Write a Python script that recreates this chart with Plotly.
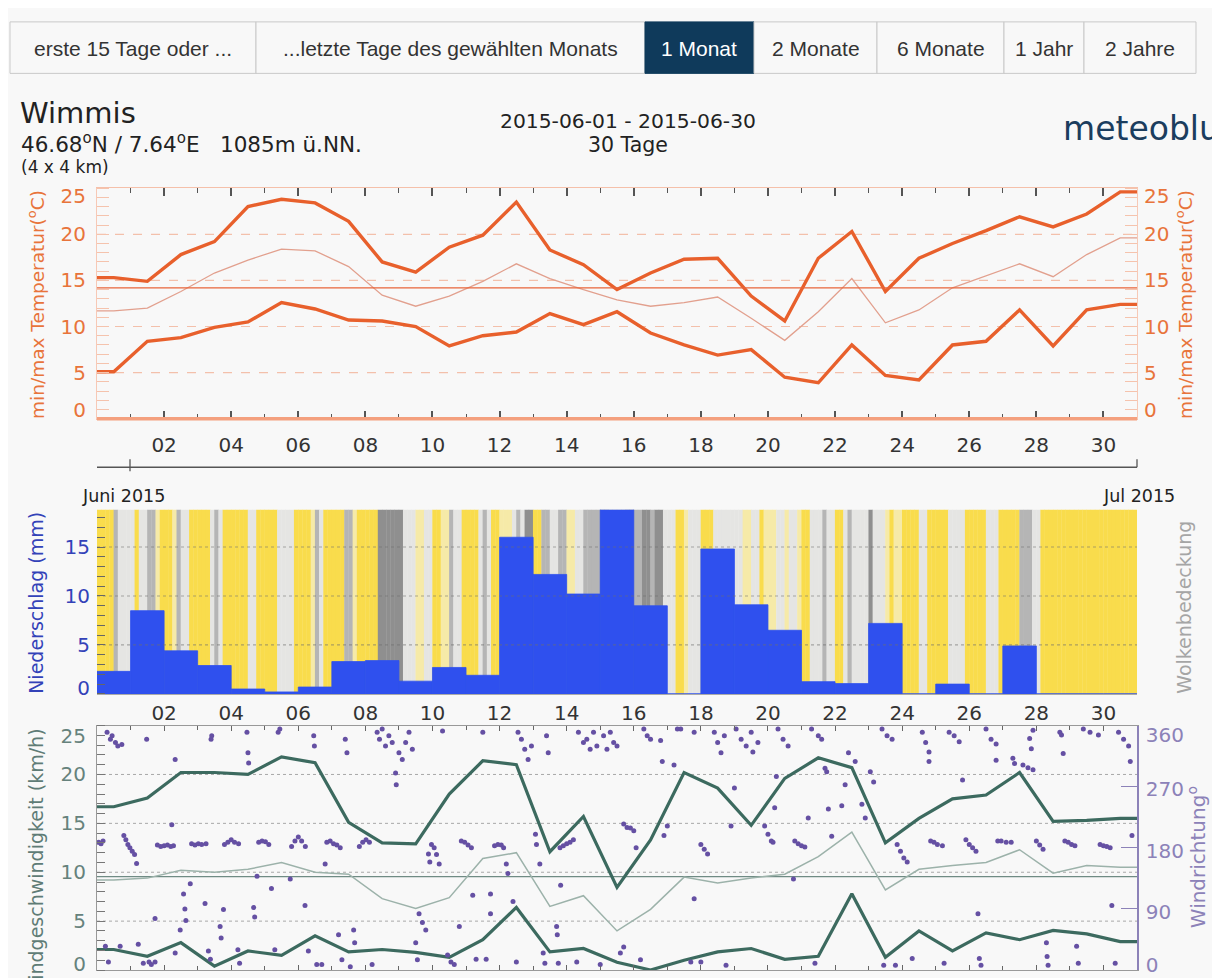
import plotly.graph_objects as go

# the page adds an 8px body margin, so the figure is 8px smaller and reference pixels are shifted by 8
OFF = 8
W, H = 1220 - OFF, 978 - OFF
def px(x): return (x - OFF) / W
def py(y): return 1 - (y - OFF) / H

FONT = "DejaVu Sans"

# ---------------- data ----------------
day_ticks = list(range(2, 31, 2))
day_labels = [f"{d:02d}" for d in day_ticks]
n_days = 31

temp_max = [15.3, 14.9, 17.8, 19.2, 23.0, 23.8, 23.4, 21.4, 17.0, 15.9, 18.6, 19.9, 23.5, 18.3, 16.7,
            14.0, 15.8, 17.3, 17.4, 13.3, 10.6, 17.4, 20.3, 13.8, 17.4, 19.0, 20.4, 21.9, 20.8, 22.2, 24.6]
temp_min = [5.1, 8.4, 8.8, 9.9, 10.5, 12.6, 11.9, 10.7, 10.6, 10.0, 7.9, 9.0, 9.4, 11.4, 10.2,
            11.6, 9.3, 8.0, 6.9, 7.5, 4.5, 3.9, 8.0, 4.7, 4.2, 8.0, 8.4, 11.8, 7.9, 11.8, 12.4]
temp_mean = [11.7, 12.0, 13.8, 15.8, 17.2, 18.4, 18.2, 16.5, 13.4, 12.2, 13.3, 14.9, 16.8, 15.2, 14.0,
             12.9, 12.2, 12.6, 13.2, 10.9, 8.5, 11.6, 15.2, 10.4, 11.8, 14.2, 15.5, 16.8, 15.4, 17.8, 19.6]
temp_avg = 14.2

precip = [2.3, 8.5, 4.4, 2.9, 0.5, 0.2, 0.7, 3.3, 3.4, 1.3, 2.7, 1.9, 16.0, 12.2, 10.2,
          19.5, 9.0, 0.0, 14.8, 9.1, 6.5, 1.25, 1.05, 7.2, 0.0, 1.0, 0.0, 4.9, 0.0, 0.0, 0.0]

# cloud cover per 3 hours: Y clear, P little, L light cloud, G cloudy, D overcast
cloud_cover = ["YYYYGLLL", "LYLLGGPY", "YYPGLLYY", "YYYLGLYY", "YYYYLLYY", "YYYLLLLY", "YYYPGLYY",
               "YYYGGPYY", "YYYDDDDD", "DLLLPPLL", "YYPPGLLY", "YYYLGLYY", "PPPLGLDD", "YYGGLLGG",
               "PPLLGGGG", "DDGGGGDD", "GGDDGDDL", "LLYYPLLL", "YYYLLLLL", "LLPPLLYP", "PPLLPLLP",
               "YYLLLGLL", "YYLGLLLL", "DLLLPYPP", "YYYYLLYY", "YYYLLLLY", "YYYYLLLY", "YYYYGGGL",
               "LYYYYYYY", "YYYYYYYY", "YYYYYYYY"]

wind_max = [16.7, 17.6, 20.2, 20.2, 20.0, 21.8, 21.2, 15.1, 13.0, 12.9, 18.0, 21.4, 21.0, 12.1, 15.7,
            8.45, 13.3, 20.2, 18.6, 14.8, 19.6, 21.7, 20.7, 13.0, 15.5, 17.5, 17.9, 20.2, 15.2, 15.3, 15.5]
wind_mean = [9.2, 9.4, 10.2, 10.0, 10.3, 11.0, 10.0, 9.8, 7.3, 6.3, 7.4, 11.4, 12.0, 6.5, 7.6,
             4.0, 6.2, 9.5, 8.9, 9.4, 9.8, 11.6, 14.1, 8.2, 10.3, 10.7, 11.0, 12.3, 9.9, 10.7, 10.5]
wind_min = [2.1, 1.4, 2.8, 0.4, 1.95, 1.5, 3.5, 1.85, 2.1, 1.8, 1.3, 3.1, 6.4, 1.85, 2.2,
            0.8, 0.0, 1.0, 1.85, 2.2, 1.1, 1.4, 7.8, 1.3, 4.0, 1.95, 3.8, 3.1, 4.05, 3.7, 2.9]
wind_avg = 9.55

# (time in days, direction in degrees)
wind_dir_obs = [
    (0.05, 188), (0.12, 186), (0.18, 190), (0.25, 35), (0.30, 350), (0.34, 12), (0.40, 340), (0.45, 345),
    (0.55, 335), (0.62, 330), (0.69, 35), (0.74, 332), (0.80, 198), (0.86, 192), (0.92, 185), (0.98, 180),
    (1.05, 175), (1.12, 170), (1.18, 157), (1.23, 38), (1.38, 10), (1.48, 340), (1.55, 12), (1.62, 8),
    (1.73, 76), (1.73, 12), (1.80, 184), (1.90, 182), (2.00, 183), (2.10, 184), (2.20, 182), (2.23, 214),
    (2.28, 183), (2.33, 310), (2.33, 25), (2.48, 59), (2.58, 112), (2.62, 90), (2.65, 73), (2.78, 127),
    (2.82, 186), (2.92, 184), (3.02, 186), (3.12, 185), (3.22, 98), (3.25, 186), (3.32, 28), (3.38, 16),
    (3.40, 340), (3.42, 345), (3.67, 64), (3.70, 47), (3.77, 89), (3.80, 185), (3.90, 188), (4.00, 192),
    (4.10, 188), (4.20, 30), (4.22, 186), (4.25, 10), (4.47, 350), (4.50, 320), (4.52, 305), (4.67, 92),
    (4.70, 78), (4.77, 138), (4.82, 188), (4.92, 190), (5.02, 189), (5.12, 185), (5.20, 120), (5.30, 30),
    (5.40, 350), (5.45, 355), (5.76, 134), (5.80, 182), (5.90, 190), (6.00, 196), (6.10, 190), (6.20, 95),
    (6.21, 182), (6.30, 28), (6.46, 345), (6.48, 330), (6.55, 8), (6.70, 8), (6.80, 156), (6.85, 188),
    (6.95, 190), (7.05, 186), (7.15, 184), (7.20, 52), (7.25, 180), (7.30, 15), (7.40, 340), (7.45, 320),
    (7.55, 5), (7.65, 59), (7.68, 40), (7.82, 182), (7.92, 188), (8.02, 192), (8.12, 188), (8.20, 8),
    (8.35, 350), (8.42, 340), (8.50, 355), (8.60, 330), (8.70, 345), (8.80, 335), (8.90, 290), (8.92, 273),
    (9.00, 320), (9.10, 310), (9.20, 335), (9.30, 350), (9.40, 325), (9.50, 40), (9.55, 15), (9.60, 83),
    (9.70, 70), (9.80, 59), (9.88, 171), (9.92, 159), (9.97, 185), (10.05, 180), (10.12, 170), (10.20, 156),
    (10.30, 352), (10.45, 22), (10.55, 12), (10.65, 8), (10.80, 64), (10.86, 190), (10.96, 188), (11.06, 184),
    (11.16, 180), (11.20, 110), (11.30, 16), (11.50, 350), (11.60, 16), (11.73, 112), (11.73, 83),
    (11.85, 183), (11.95, 185), (12.05, 184), (12.12, 180), (12.20, 156), (12.25, 142), (12.40, 101),
    (12.50, 12), (12.55, 350), (12.65, 340), (12.75, 325), (12.85, 310), (12.95, 330), (13.07, 200),
    (13.10, 185), (13.20, 156), (13.30, 25), (13.35, 10), (13.40, 345), (13.45, 320), (13.70, 64),
    (13.72, 52), (13.75, 10), (13.80, 180), (13.82, 125), (13.90, 183), (14.00, 186), (14.10, 188),
    (14.20, 192), (14.30, 12), (14.35, 350), (14.50, 335), (14.60, 340), (14.70, 325), (14.80, 350),
    (14.90, 330), (15.00, 8), (15.10, 345), (15.20, 325), (15.30, 350), (15.40, 335), (15.50, 330),
    (15.60, 25), (15.70, 34), (15.70, 215), (15.80, 210), (15.90, 209), (16.00, 205), (16.07, 180),
    (16.20, 15), (16.30, 355), (16.40, 345), (16.50, 340), (16.80, 338), (16.85, 307), (16.90, 198),
    (17.00, 212), (17.20, 302), (17.30, 355), (17.40, 355), (17.70, 12), (17.80, 350), (17.80, 105),
    (18.00, 185), (18.10, 178), (18.20, 171), (18.00, 12), (18.40, 350), (18.50, 335), (18.60, 320),
    (18.70, 345), (18.75, 7), (18.90, 212), (19.00, 268), (19.05, 355), (19.20, 340), (19.35, 330),
    (19.50, 350), (19.55, 321), (19.70, 335), (19.90, 212), (20.00, 200), (20.10, 190), (20.15, 188),
    (20.20, 239), (20.25, 285), (20.30, 355), (20.45, 340), (20.60, 330), (20.76, 134), (20.80, 190),
    (20.90, 186), (21.00, 183), (21.10, 181), (21.20, 224), (21.30, 355), (21.40, 10), (21.50, 345),
    (21.60, 340), (21.70, 297), (21.75, 292), (21.80, 237), (21.90, 197), (22.20, 242), (22.30, 273),
    (22.40, 320), (22.60, 307), (22.80, 244), (22.90, 224), (23.05, 292), (23.15, 277), (23.40, 355),
    (23.45, 7), (23.55, 345), (23.70, 340), (23.80, 7), (23.85, 185), (23.95, 175), (24.05, 165),
    (24.15, 159), (24.30, 17), (24.60, 350), (24.70, 335), (24.80, 321), (24.80, 307), (24.85, 190),
    (24.95, 188), (25.05, 185), (25.20, 183), (25.25, 10), (25.40, 350), (25.55, 345), (25.70, 336),
    (25.80, 280), (25.90, 192), (26.00, 185), (26.10, 180), (26.20, 175), (26.26, 83), (26.30, 17),
    (26.35, 7), (26.50, 355), (26.65, 340), (26.80, 333), (26.80, 309), (26.85, 190), (26.95, 190),
    (27.10, 188), (27.25, 188), (27.30, 312), (27.35, 304), (27.60, 302), (27.75, 298), (27.80, 341),
    (27.85, 326), (27.90, 353), (27.90, 295), (28.00, 190), (28.10, 184), (28.20, 178), (28.30, 40),
    (28.32, 20), (28.35, 7), (28.70, 350), (28.75, 346), (28.80, 319), (28.85, 190), (28.95, 188),
    (29.05, 185), (29.15, 183), (29.20, 35), (29.25, 10), (29.40, 355), (29.60, 350), (29.85, 346),
    (29.90, 185), (30.00, 183), (30.10, 182), (30.20, 180), (30.25, 95), (30.35, 10), (30.45, 350),
    (30.60, 340), (30.75, 330), (30.80, 307), (30.85, 198),
]

# ---------------- helpers ----------------
centers = [d + 0.5 for d in range(n_days)]
def stepline(vals):
    return [0] + centers + [n_days], [vals[0]] + vals + [vals[-1]]

XD = [px(97), px(1137)]
TEMP_C = "#e8743b"
WIND_C = "#3c6a5f"
TICK_SIZE = 20

fig = go.Figure()

# ---- temperature panel ----
for vals in (temp_max, temp_min):
    xs, ys = stepline(vals)
    fig.add_trace(go.Scatter(x=xs, y=ys, mode="lines", line=dict(color="#e8602c", width=3.4),
                             xaxis="x", yaxis="y", hoverinfo="skip"))
xs, ys = stepline(temp_mean)
fig.add_trace(go.Scatter(x=xs, y=ys, mode="lines", line=dict(color="#e2a08e", width=1.3),
                         xaxis="x", yaxis="y2", hoverinfo="skip"))
fig.add_trace(go.Scatter(x=[0, n_days], y=[temp_avg, temp_avg], mode="lines",
                         line=dict(color="#e8643a", width=1.3), xaxis="x", yaxis="y2", hoverinfo="skip"))

# ---- precipitation / cloud panel ----
cloud_colors = {"Y": "#f9dc4c", "P": "#f6eaa8", "L": "#e5e5e3", "G": "#b5b5b5", "D": "#8f8f8f"}
sx, sc = [], []
for d, s in enumerate(cloud_cover):
    for j, ch in enumerate(s):
        sx.append(d + (j + 0.5) / len(s))
        sc.append(cloud_colors[ch])
fig.add_trace(go.Bar(x=sx, y=[40] * len(sx), width=1 / 8 + 0.01, marker=dict(color=sc, line=dict(width=0)),
                     xaxis="x2", yaxis="y3", hoverinfo="skip"))
fig.add_trace(go.Bar(x=centers, y=precip, width=1.0,
                     marker=dict(color="#2f50ee", line=dict(width=0.8, color="#2f50ee")),
                     xaxis="x2", yaxis="y3", hoverinfo="skip"))

# ---- wind panel ----
fig.add_trace(go.Scatter(x=[0, n_days], y=[wind_avg, wind_avg], mode="lines",
                         line=dict(color="#6f8b84", width=1.3), xaxis="x3", yaxis="y4", hoverinfo="skip"))
xs, ys = stepline(wind_mean)
fig.add_trace(go.Scatter(x=xs, y=ys, mode="lines", line=dict(color="#9cb2aa", width=1.5),
                         xaxis="x3", yaxis="y4", hoverinfo="skip"))
for vals in (wind_max, wind_min):
    xs, ys = stepline(vals)
    fig.add_trace(go.Scatter(x=xs, y=ys, mode="lines", line=dict(color=WIND_C, width=3.2),
                             xaxis="x3", yaxis="y4", hoverinfo="skip"))
fig.add_trace(go.Scatter(x=[t for t, _ in wind_dir_obs], y=[d for _, d in wind_dir_obs], mode="markers",
                         marker=dict(color="#6550a3", size=5), xaxis="x3", yaxis="y5", hoverinfo="skip"))

# ---------------- axes ----------------
xcommon = dict(domain=XD, range=[0, n_days], tickmode="array", tickvals=day_ticks, ticktext=day_labels,
               tickfont=dict(family=FONT, size=TICK_SIZE, color="#333"), showgrid=False, zeroline=False,
               fixedrange=True)

def temp_axis(side, standoff):
    return dict(tickmode="array", tickvals=[0.9, 5, 10, 15, 20, 24.1],
                ticktext=["0", "5", "10", "15", "20", "25"], ticks="",
                tickfont=dict(family=FONT, size=TICK_SIZE, color=TEMP_C), ticklabelstandoff=standoff,
                minor=dict(tickmode="array", tickvals=list(range(0, 26)), ticks="inside", ticklen=12,
                           tickcolor="#f5c3ad", tickwidth=1.2, showgrid=False),
                range=[0, 25], showgrid=False, zeroline=False, showline=True, linecolor="#f7c9b6",
                linewidth=1.2, side=side)

fig.update_layout(
    width=W, height=H, autosize=False, margin=dict(l=0, r=0, t=0, b=0),
    paper_bgcolor="#f8f8f8", plot_bgcolor="#f8f8f8", showlegend=False, barmode="overlay",
    font=dict(family=FONT),
    xaxis=dict(**xcommon, anchor="y", ticks="inside", ticklen=8, tickcolor="#555", tickwidth=1.5,
               minor=dict(tickmode="array", tickvals=list(range(1, 32, 2)), ticks="inside", ticklen=5,
                          tickcolor="#555", tickwidth=1.2),
               showline=True, linecolor="#f5c0aa", linewidth=1.3, mirror="ticks", ticklabelstandoff=8),
    yaxis=dict(**temp_axis("left", 6), domain=[py(419), py(186)], anchor="x"),
    yaxis2=dict(**temp_axis("right", 2), overlaying="y", anchor="x"),
    xaxis2=dict(**xcommon, anchor="y3", ticks="", showline=True, linecolor="#aaa", linewidth=1,
                ticklabelstandoff=1),
    yaxis3=dict(domain=[py(697), py(511)], anchor="x2", range=[0, 18.8], tickmode="array",
                tickvals=[0.6, 5, 10, 15], ticktext=["0", "5", "10", "15"], ticks="",
                tickfont=dict(family=FONT, size=TICK_SIZE, color="#3342b8"), ticklabelstandoff=6,
                minor=dict(tickmode="array", tickvals=list(range(0, 19)), ticks="inside", ticklen=8,
                           tickcolor="#666", tickwidth=1, showgrid=False),
                showgrid=False, zeroline=False, fixedrange=True),
    xaxis3=dict(**xcommon, anchor="y4", ticks="inside", ticklen=5, tickcolor="#666",
                minor=dict(tickmode="array", tickvals=list(range(1, 32, 2)), ticks="inside", ticklen=4,
                           tickcolor="#666"),
                showticklabels=False, showline=True, linecolor="#999", linewidth=1.2, mirror="ticks"),
    yaxis4=dict(domain=[py(976), py(729)], anchor="x3", range=[0, 25], tickmode="array",
                tickvals=[0.6, 5, 10, 15, 20, 23.9], ticktext=["0", "5", "10", "15", "20", "25"], ticks="",
                tickfont=dict(family=FONT, size=TICK_SIZE, color="#66827c"), ticklabelstandoff=6,
                minor=dict(tickmode="array", tickvals=list(range(0, 26)), ticks="inside", ticklen=8,
                           tickcolor="#777", tickwidth=1, showgrid=False),
                showgrid=False, zeroline=False, showline=True, linecolor="#999", linewidth=1.2),
    yaxis5=dict(overlaying="y4", anchor="x3", side="right", range=[0, 360], tickmode="array",
                tickvals=[7, 86, 176, 266, 346], ticktext=["0", "90", "180", "270", "360"], ticks="",
                tickfont=dict(family=FONT, size=TICK_SIZE, color="#8c82b8"), ticklabelstandoff=3,
                minor=dict(tickmode="array", tickvals=[90, 180, 270], ticks="inside", ticklen=16,
                           tickcolor="#8c82b8", tickwidth=1.2, showgrid=False),
                showgrid=False, zeroline=False, showline=True, linecolor="#8c82b8", linewidth=1.5),
)

# ---------------- gridlines ----------------
shapes = []
for v in [5, 10, 15, 20]:
    shapes.append(dict(type="line", xref="x domain", yref="y", x0=0, x1=1, y0=v, y1=v, layer="below",
                       line=dict(color="#f3c0ab", width=1.2, dash="dash")))
    shapes.append(dict(type="line", xref="x3 domain", yref="y4", x0=0, x1=1, y0=v, y1=v, layer="below",
                       line=dict(color="#a8a8a8", width=1, dash="dot")))
for v in [5, 10, 15]:
    shapes.append(dict(type="line", xref="x2 domain", yref="y3", x0=0, x1=1, y0=v, y1=v, layer="above",
                       line=dict(color="rgba(110,110,110,0.55)", width=1.2, dash="dot")))
# thick orange baseline of the temperature panel
shapes.append(dict(type="line", xref="x domain", yref="y domain", x0=0, x1=1, y0=0, y1=0, layer="above",
                   line=dict(color="#f4a07e", width=3.5)))

# separator with small ticks between panel 1 and 2
shapes.append(dict(type="line", xref="paper", yref="paper", x0=px(97), x1=px(1137), y0=py(468), y1=py(468),
                   line=dict(color="#555", width=1.3)))
shapes.append(dict(type="line", xref="paper", yref="paper", x0=px(130), x1=px(130), y0=py(460), y1=py(472),
                   line=dict(color="#555", width=1.3)))
shapes.append(dict(type="line", xref="paper", yref="paper", x0=px(1137), x1=px(1137), y0=py(460), y1=py(468),
                   line=dict(color="#555", width=1.3)))

# ---------------- button bar ----------------
buttons = [("erste 15 Tage oder ...", 10, 256), ("...letzte Tage des gewählten Monats", 256, 645),
           ("1 Monat", 645, 754), ("2 Monate", 754, 877), ("6 Monate", 877, 1004),
           ("1 Jahr", 1004, 1084), ("2 Jahre", 1084, 1196)]
annotations = []
for label, x0, x1 in buttons:
    active = label == "1 Monat"
    shapes.append(dict(type="rect", xref="paper", yref="paper", x0=px(x0), x1=px(x1), y0=py(70), y1=py(18),
                       fillcolor="#0f3a5b" if active else "#f8f8f8",
                       line=dict(color="#0f3a5b" if active else "#c9c9c9", width=1), layer="above"))
    annotations.append(dict(text=label, xref="paper", yref="paper", x=px((x0 + x1) / 2), y=py(45),
                            showarrow=False, xanchor="center", yanchor="middle",
                            font=dict(family="Liberation Sans", size=21, color="#fff" if active else "#333")))

def ann(text, x, y, size, color="#222", xanchor="left", angle=0, family=FONT):
    annotations.append(dict(text=text, xref="paper", yref="paper", x=px(x), y=py(y), showarrow=False,
                            xanchor=xanchor, yanchor="middle", textangle=angle,
                            font=dict(family=family, size=size, color=color)))

NB = "\u00a0"
ann("Wimmis", 18, 110, 29, "#222")
ann(f"46.68<sup>o</sup>N / 7.64<sup>o</sup>E{NB}{NB}{NB}1085m ü.NN.", 19, 140, 21.5, "#222")
ann("(4 x 4 km)", 19, 165, 17, "#222")
ann("2015-06-01 - 2015-06-30", 628, 118, 20.3, "#222", xanchor="center")
ann("30 Tage", 628, 142, 20.5, "#222", xanchor="center")
ann("meteoblue", 1061, 126, 33, "#1b3d5e")

ann("min/max Temperatur(<sup>o</sup>C)", 36, 304, 18.5, TEMP_C, xanchor="center", angle=-90)
ann("min/max Temperatur(<sup>o</sup>C)", 1184, 304, 18.5, TEMP_C, xanchor="center", angle=-90)
ann("Niederschlag (mm)", 36, 605, 19, "#3342b8", xanchor="center", angle=-90)
ann("Wolkenbedeckung", 1184, 610, 19, "#a5a5a5", xanchor="center", angle=-90)
ann("Juni 2015", 80, 497, 17.5, "#222")
ann("Jul 2015", 1177, 497, 17.5, "#222", xanchor="right")
ann("Windgeschwindigkeit (km/h)", 36, 868, 19, "#5f7c76", xanchor="center", angle=-90)
ann("Windrichtung<sup>o</sup>", 1197, 862, 20, "#8c82b8", xanchor="center", angle=-90)

fig.update_layout(shapes=shapes, annotations=annotations)
fig.write_html("out.html")
